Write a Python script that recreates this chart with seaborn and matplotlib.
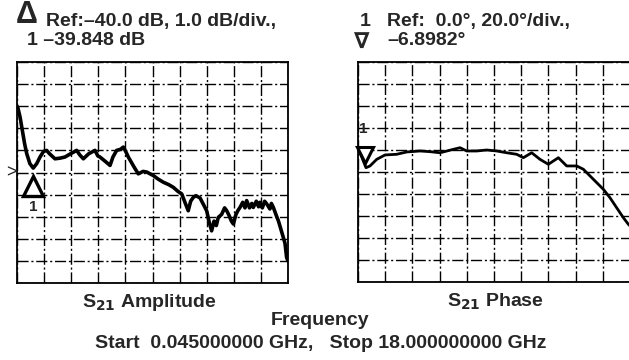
import matplotlib
matplotlib.use("Agg")
import matplotlib.pyplot as plt
import matplotlib.transforms as mtransforms
import numpy as np
import pandas as pd
import seaborn as sns

# ---- data ----
amp_freq = [0.05, 0.11, 0.25, 0.36, 0.55, 0.69, 0.9, 1.12, 1.35, 1.57, 1.8, 2.01, 2.2, 2.56, 2.9,
            3.22, 3.6, 4.0, 4.2, 4.44, 4.8, 5.21, 5.4, 5.54, 5.9, 6.21, 6.4, 6.65, 6.9, 7.09, 7.25,
            7.42, 7.8, 8.08, 8.4, 8.64, 9.08, 9.4, 9.74, 10.1, 10.4, 10.7, 10.96, 11.2, 11.39, 11.55,
            11.73, 11.9, 12.17, 12.4, 12.61, 12.8, 12.94, 13.1, 13.25, 13.38, 13.6, 13.8, 13.94, 14.1,
            14.25, 14.38, 14.55, 14.7, 14.82, 15.0, 15.15, 15.26, 15.45, 15.6, 15.7, 15.9, 16.05, 16.14,
            16.3, 16.45, 16.59, 16.8, 16.9, 17.03, 17.2, 17.36, 17.5, 17.69, 17.8, 17.91, 18.0]
amp_db = [-37.0, -37.09, -37.5, -37.94, -38.7, -39.15, -39.6, -39.8, -39.6, -39.3, -39.05, -39.0, -39.15,
          -39.38, -39.35, -39.3, -39.15, -39.0, -39.2, -39.38, -39.15, -39.0, -39.25, -39.3, -39.5, -39.68,
          -39.3, -39.0, -38.95, -38.85, -39.05, -39.3, -39.75, -40.06, -39.95, -39.98, -40.14, -40.3, -40.44,
          -40.55, -40.67, -40.85, -40.97, -41.4, -41.73, -41.3, -41.12, -41.05, -41.15, -41.45, -41.73, -42.3,
          -42.64, -42.2, -42.4, -42.03, -41.9, -41.6, -41.73, -41.95, -42.2, -42.33, -41.9, -41.7, -41.58,
          -41.35, -41.6, -41.27, -41.6, -41.4, -41.58, -41.3, -41.55, -41.35, -41.6, -41.3, -41.42, -41.65,
          -41.4, -41.58, -41.9, -42.18, -42.5, -42.94, -43.2, -43.85, -44.0]

ph_freq = [0.05, 0.13, 0.395, 0.573, 0.837, 1.28, 1.83, 2.6, 3.26, 4.14, 4.8, 5.46, 6.34, 6.78, 7.22,
           7.88, 8.54, 9.2, 9.86, 10.52, 10.96, 11.51, 12.06, 12.61, 13.27, 13.82, 14.48, 14.92, 15.58,
           16.24, 16.68, 17.12, 17.56, 17.89, 18.0]
ph_deg = [0.0, -0.9, -10.0, -16.1, -14.5, -8.5, -4.5, -3.9, -1.8, -0.9, -1.5, -2.5, 0.6, 2.1, -0.9,
          -0.9, 0.0, -0.9, -2.5, -3.9, -7.0, -2.5, -8.5, -13.0, -7.0, -14.5, -14.5, -17.5, -26.6,
          -35.7, -43.4, -52.5, -61.5, -67.5, -69.0]

amp_ref = -40.0
amp_per_div = 1.0
ph_ref = 0.0
ph_per_div = 20.0
f_start, f_stop = 0.045, 18.0
marker_freq_amp = 1.12
marker_freq_ph = 0.13

amp_df = pd.DataFrame({"freq": amp_freq, "val": amp_db})
ph_df = pd.DataFrame({"freq": ph_freq, "val": ph_deg})

sns.set_style("white")
plt.rcParams["font.family"] = ["Liberation Sans", "DejaVu Sans"]
plt.rcParams["font.weight"] = "bold"

W, H = 629, 360
fig = plt.figure(figsize=(W / 100, H / 100), dpi=100)

def px_axes(x0, y0, x1, y1):
    return fig.add_axes([x0 / W, 1 - y1 / H, (x1 - x0) / W, (y1 - y0) / H])

ax1 = px_axes(17, 62, 288, 283)
ax2 = px_axes(358, 62, 630, 282)

def style_grid(ax, ylo, yhi):
    ax.set_xlim(f_start, f_stop)
    ax.set_ylim(ylo, yhi)
    ax.set_xticks(np.linspace(f_start, f_stop, 11))
    ax.set_yticks(np.linspace(ylo, yhi, 11))
    ax.tick_params(length=0, labelbottom=False, labelleft=False)
    ax.grid(True, color="black", linestyle=(0, (8, 2, 1.5, 2)), linewidth=1.0)
    for s in ax.spines.values():
        s.set_visible(True)
        s.set_color("black")
        s.set_linewidth(1.3)
    ax.set_xlabel("")
    ax.set_ylabel("")

sns.lineplot(data=amp_df, x="freq", y="val", ax=ax1, color="black", linewidth=2.6, sort=False)
sns.lineplot(data=ph_df, x="freq", y="val", ax=ax2, color="black", linewidth=2.0, sort=False)

style_grid(ax1, amp_ref - 5 * amp_per_div, amp_ref + 5 * amp_per_div)
style_grid(ax2, ph_ref - 6 * ph_per_div, ph_ref + 4 * ph_per_div)

# reference marker '>' at left of amplitude grid
ax1.annotate(">", xy=(0, amp_ref), xycoords=("axes fraction", "data"), xytext=(0, 0),
             textcoords="offset points", ha="right", va="center", fontsize=13,
             fontweight="normal", annotation_clip=False)

# marker 1 on amplitude trace (open triangle below trace)
mv_amp = float(np.interp(marker_freq_amp, amp_freq, amp_db))
tr = mtransforms.offset_copy(ax1.transData, fig=fig, x=0, y=-13, units="points")
ax1.plot([marker_freq_amp], [mv_amp], marker="^", ms=14, mfc="white", mec="black", mew=2.4,
         transform=tr, clip_on=False, zorder=5)
ax1.annotate("1", xy=(marker_freq_amp, mv_amp), xytext=(0, -28), textcoords="offset points",
             ha="center", va="center", fontsize=11)

# marker 1 on phase trace (open inverted triangle)
mv_ph = float(np.interp(marker_freq_ph, ph_freq, ph_deg))
tr2 = mtransforms.offset_copy(ax2.transData, fig=fig, x=4, y=-3, units="points")
ax2.plot([marker_freq_ph], [mv_ph], marker="v", ms=12, mfc="white", mec="black", mew=2.2,
         transform=tr2, clip_on=False, zorder=5)
ax2.annotate("1", xy=(marker_freq_ph, mv_ph), xytext=(3, 16), textcoords="offset points",
             ha="center", va="center", fontsize=11)

def ftext(x, y, s, **kw):
    fig.text(x / W, 1 - y / H, s, va="baseline", ha="left", fontweight="bold", **kw)

fs = 14
fig.text(16 / W, 1 - 23 / H, "Δ", fontsize=22, va="baseline", ha="left", fontweight="bold")
ftext(46, 26, "Ref:\u201340.0 dB, 1.0 dB/div.,", fontsize=fs)
ftext(27, 45, "1 \u201339.848 dB", fontsize=fs)

ftext(360, 26, "1", fontsize=fs)
ftext(387, 26, "Ref:  0.0°, 20.0°/div.,", fontsize=fs)
fig.text(354 / W, 1 - 48 / H, "∇", fontsize=16, va="baseline", ha="left",
         family=["DejaVu Sans"], fontweight="bold")
ftext(387, 45, "\u20136.8982°", fontsize=fs)

fig.text(82 / W, 1 - 307 / H, r"S$_{\mathbf{21}}$ Amplitude", fontsize=fs, va="baseline", ha="left", fontweight="bold")
fig.text(447 / W, 1 - 307 / H, r"S$_{\mathbf{21}}$ Phase", fontsize=fs, va="baseline", ha="left", fontweight="bold")
fig.text(320 / W, 1 - 325 / H, "Frequency", fontsize=fs, va="baseline", ha="center", fontweight="bold")
fig.text(321 / W, 1 - 348 / H, "Start  0.045000000 GHz,   Stop 18.000000000 GHz", fontsize=fs,
         va="baseline", ha="center", fontweight="bold")

fig.savefig("out.png", dpi=100, facecolor="white")
